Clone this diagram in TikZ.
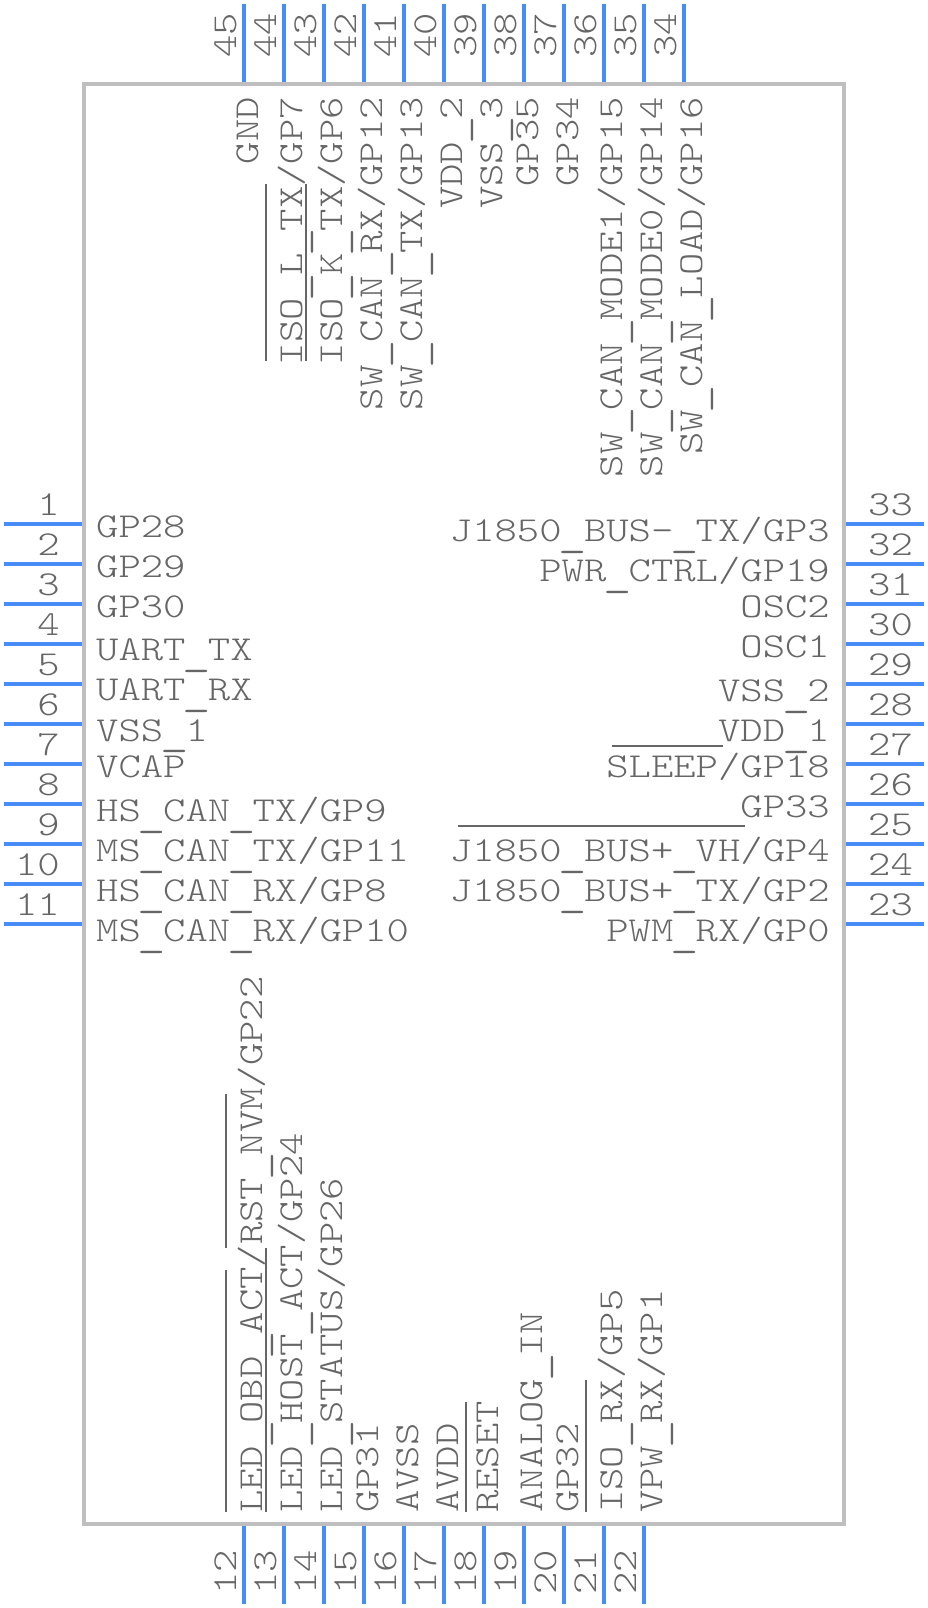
\documentclass[tikz,border=0pt]{standalone}
\usepackage{graphicx}
\usepackage{fontspec}
\newfontfamily\lbl[FakeStretch=1.216]{Latin Modern Mono Light}
\newcommand{\US}{\lower3.6pt\hbox to 22.34pt{\hss\scalebox{1.27}[1.3]{\_}\hss}}
\definecolor{pinblue}{HTML}{478CF7}
\definecolor{bodygray}{HTML}{BFBFBF}
\definecolor{txt}{HTML}{666666}
\tikzset{
  x=1pt,y=-1pt,
  pinline/.style={draw=pinblue,line width=4pt},
  bodybox/.style={draw=bodygray,line width=4pt,fill=white},
  bar/.style={draw=txt,line width=2pt},
  lab/.style={inner sep=0pt,text=txt,font=\lbl\fontsize{35}{35}\selectfont},
  lableft/.style={lab,anchor=base west},
  labright/.style={lab,anchor=base east},
  vstart/.style={lab,anchor=base west,rotate=90},
  vend/.style={lab,anchor=base east,rotate=90},
}
\begin{document}
\begin{tikzpicture}
\useasboundingbox (0,0) rectangle (928,1608);
\draw[bodybox] (84,84) rectangle (844,1524);
\foreach \n/\y in {1/524,2/564,3/604,4/644,5/684,6/724,7/764,8/804,9/844,10/884,11/924}
  {\coordinate (lp\n) at (4,\y); \coordinate (lq\n) at (82,\y); \draw[pinline] (lp\n) -- (lq\n); \node[labright] at (60,\y-9) {\n};}
\foreach \n/\y in {33/524,32/564,31/604,30/644,29/684,28/724,27/764,26/804,25/844,24/884,23/924}
  {\coordinate (rp\n) at (924,\y); \coordinate (rq\n) at (846,\y); \draw[pinline] (rp\n) -- (rq\n); \node[lableft] at (868,\y-9) {\n};}
\foreach \n/\x in {45/244,44/284,43/324,42/364,41/404,40/444,39/484,38/524,37/564,36/604,35/644,34/684}
  {\coordinate (tp\n) at (\x,4); \coordinate (tq\n) at (\x,82); \draw[pinline] (tp\n) -- (tq\n); \node[vstart] at (\x-8,58) {\n};}
\foreach \n/\x in {12/244,13/284,14/324,15/364,16/404,17/444,18/484,19/524,20/564,21/604,22/644}
  {\coordinate (bp\n) at (\x,1604); \coordinate (bq\n) at (\x,1526); \draw[pinline] (bp\n) -- (bq\n); \node[vend] at (\x-8,1550) {\n};}
% left labels
\node[lableft] (l1) at (96,537) {GP28};
\node[lableft] (l2) at (96,577) {GP29};
\node[lableft] (l3) at (96,617) {GP30};
\node[lableft] (l4) at (96,660.5) {UART\US TX};
\node[lableft] (l5) at (96,700.5) {UART\US RX};
\node[lableft] (l6) at (96,741) {VSS\US 1};
\node[lableft] (l7) at (96,777) {VCAP};
\node[lableft] (l8) at (96,821.7) {HS\US CAN\US TX/GP9};
\node[lableft] (l9) at (96,861.7) {MS\US CAN\US TX/GP11};
\node[lableft] (l10) at (96,901.7) {HS\US CAN\US RX/GP8};
\node[lableft] (l11) at (96,941.7) {MS\US CAN\US RX/GP10};
% right labels
\node[labright] (r33) at (830,541.7) {J1850\US BUS-\US TX/GP3};
\node[labright] (r32) at (830,581.7) {PWR\US CTRL/GP19};
\node[labright] (r31) at (830,617) {OSC2};
\node[labright] (r30) at (830,657) {OSC1};
\node[labright] (r29) at (830,701.7) {VSS\US 2};
\node[labright] (r28) at (830,741.7) {VDD\US 1};
\node[labright] (r27) at (830,777) {SLEEP/GP18};
\node[labright] (r26) at (830,817) {GP33};
\node[labright] (r25) at (830,861.7) {J1850\US BUS+\US VH/GP4};
\node[labright] (r24) at (830,901.7) {J1850\US BUS+\US TX/GP2};
\node[labright] (r23) at (830,941.7) {PWM\US RX/GP0};
% top labels
\node[vend] (t45) at (258,97) {GND};
\node[vend] (t44) at (302,97) {ISO\US L\US TX/GP7};
\node[vend] (t43) at (342,97) {ISO\US K\US TX/GP6};
\node[vend] (t42) at (382,97) {SW\US CAN\US RX/GP12};
\node[vend] (t41) at (422,97) {SW\US CAN\US TX/GP13};
\node[vend] (t40) at (462,97) {VDD\US 2};
\node[vend] (t39) at (502,97) {VSS\US 3};
\node[vend] (t38) at (538,97) {GP35};
\node[vend] (t37) at (578,97) {GP34};
\node[vend] (t36) at (622,97) {SW\US CAN\US MODE1/GP15};
\node[vend] (t35) at (662,97) {SW\US CAN\US MODE0/GP14};
\node[vend] (t34) at (702,97) {SW\US CAN\US LOAD/GP16};
% bottom labels
\node[vstart] (b12) at (262,1513) {LED\US OBD\US ACT/RST\US NVM/GP22};
\node[vstart] (b13) at (302,1513) {LED\US HOST\US ACT/GP24};
\node[vstart] (b14) at (342,1513) {LED\US STATUS/GP26};
\node[vstart] (b15) at (378,1513) {GP31};
\node[vstart] (b16) at (418,1513) {AVSS};
\node[vstart] (b17) at (458,1513) {AVDD};
\node[vstart] (b18) at (498,1513) {RESET};
\node[vstart] (b19) at (542,1513) {ANALOG\US IN};
\node[vstart] (b20) at (578,1513) {GP32};
\node[vstart] (b21) at (622,1513) {ISO\US RX/GP5};
\node[vstart] (b22) at (662,1513) {VPW\US RX/GP1};
% overbars
\draw[bar] (266,184) -- (266,361);
\draw[bar] (306,184) -- (306,361);
\draw[bar] (612,746) -- (723,746);
\draw[bar] (458,826) -- (745,826);
\draw[bar] (226,1094) -- (226,1248);
\draw[bar] (226,1270) -- (226,1512);
\draw[bar] (266,1248) -- (266,1512);
\draw[bar] (466,1402) -- (466,1512);
\draw[bar] (586,1380) -- (586,1512);
\end{tikzpicture}
\end{document}
